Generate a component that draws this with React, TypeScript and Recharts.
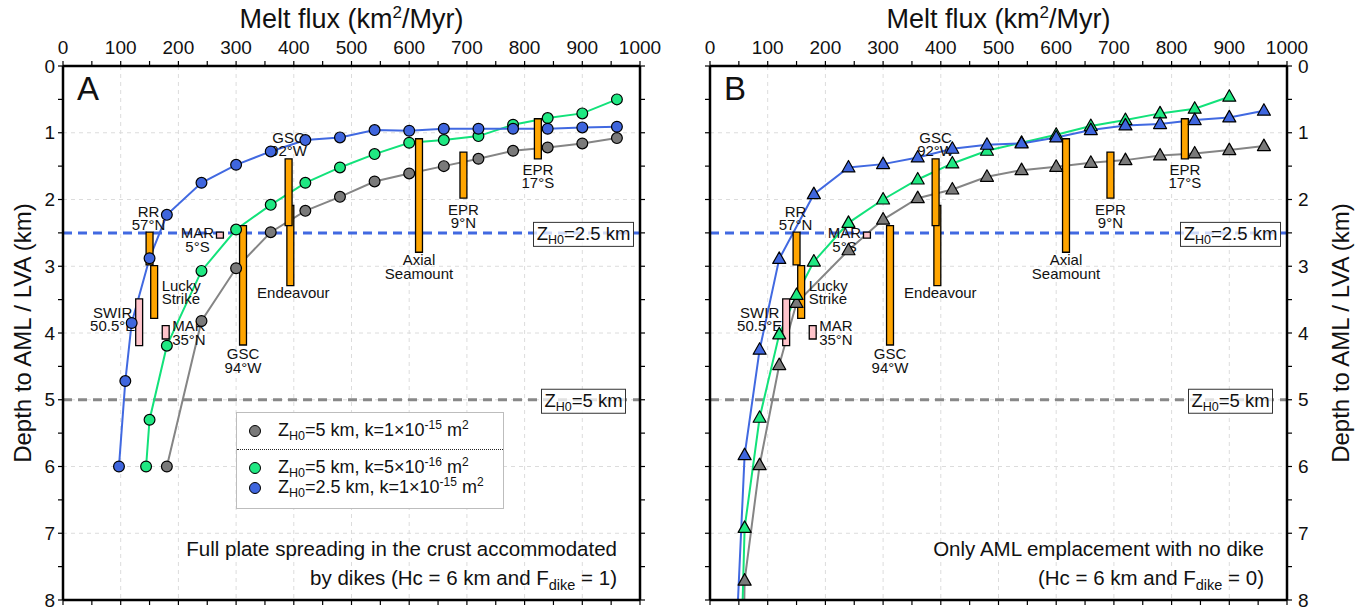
import React from 'react';
import { ComposedChart, Line, XAxis, YAxis, CartesianGrid, ReferenceLine, ReferenceArea, Legend } from 'recharts';

const FONT = '"Liberation Sans", Arial, Helvetica, sans-serif';

// axis ticks
const xTicks = [0, 50, 100, 150, 200, 250, 300, 350, 400, 450, 500, 550, 600, 650, 700, 750, 800, 850, 900, 950, 1000];
const yTicks = [0, 0.5, 1, 1.5, 2, 2.5, 3, 3.5, 4, 4.5, 5, 5.5, 6, 6.5, 7, 7.5, 8];
const gridX = [100, 200, 300, 400, 500, 600, 700, 800, 900];
const gridY = [1, 2, 3, 4, 5, 6, 7];

// panel A: full spreading accommodated by dikes (F_dike = 1)
const grayAx = [180, 240, 300, 360, 420, 480, 540, 600, 660, 720, 780, 840, 900, 960];
const grayAy = [6.0, 3.82, 3.03, 2.49, 2.17, 1.96, 1.73, 1.61, 1.5, 1.39, 1.27, 1.22, 1.16, 1.08];
const greenAx = [144, 150, 180, 240, 300, 360, 420, 480, 540, 600, 660, 720, 780, 840, 900, 960];
const greenAy = [6.0, 5.3, 4.19, 3.07, 2.45, 2.08, 1.75, 1.52, 1.32, 1.15, 1.11, 1.05, 0.88, 0.78, 0.71, 0.5];
const blueAx = [97, 108, 119, 150, 180, 240, 300, 360, 420, 480, 540, 600, 660, 720, 780, 840, 900, 960];
const blueAy = [6.0, 4.72, 3.85, 2.88, 2.23, 1.75, 1.48, 1.28, 1.11, 1.07, 0.96, 0.97, 0.94, 0.94, 0.94, 0.94, 0.92, 0.91];

// panel B: AML emplacement only (F_dike = 0)
const grayBx = [50, 60, 86, 120, 150, 240, 300, 360, 420, 480, 540, 600, 660, 720, 780, 840, 900, 960];
const grayBy = [13.5, 7.71, 5.98, 4.48, 3.55, 2.76, 2.3, 1.98, 1.85, 1.66, 1.56, 1.51, 1.45, 1.41, 1.34, 1.31, 1.26, 1.2];
const greenBx = [50, 60, 86, 120, 150, 180, 240, 300, 360, 420, 480, 540, 600, 660, 720, 780, 840, 900];
const greenBy = [10.1, 6.92, 5.27, 4.02, 3.43, 2.93, 2.35, 2.0, 1.7, 1.46, 1.27, 1.15, 1.03, 0.9, 0.81, 0.71, 0.64, 0.46];
const blueBx = [45, 60, 86, 120, 180, 240, 300, 360, 420, 480, 540, 600, 660, 720, 780, 840, 900, 960];
const blueBy = [8.66, 5.83, 4.25, 2.89, 1.92, 1.52, 1.47, 1.37, 1.24, 1.18, 1.16, 1.07, 0.96, 0.89, 0.87, 0.81, 0.77, 0.67];

// observed melt lens / LVA depth ranges
const siteNames = [['RR', '57°N'], ['Lucky', 'Strike'], ['MAR', '5°S'], ['SWIR', '50.5°E'], ['MAR', '35°N'], ['GSC', '94°W'], ['Endeavour'], ['GSC', '92°W'], ['Axial', 'Seamount'], ['EPR', '9°N'], ['EPR', '17°S']];
const siteFlux = [150, 158, 272, 132, 178, 312, 394, 391, 617, 694, 823];
const siteTop = [2.49, 2.99, 2.49, 3.49, 3.89, 2.39, 2.09, 1.39, 1.09, 1.29, 0.79];
const siteBottom = [2.98, 3.78, 2.58, 4.19, 4.09, 4.18, 3.29, 2.39, 2.79, 1.98, 1.39];
const siteKind = ['AML', 'AML', 'LVA', 'LVA', 'LVA', 'AML', 'AML', 'AML', 'AML', 'AML', 'AML'];

// legend text pieces, in series order
const seriesOrder = ['gray', 'green', 'blue'];
const legendZ = ['5', '5', '2.5'];
const legendK = ['1', '5', '1'];
const legendExp = ['-15', '-16', '-15'];

const COLORS = {
  gray: { line: '#858585', fill: '#7a7a7a' },
  green: { line: '#12E27A', fill: '#1FE882' },
  blue: { line: '#4169E1', fill: '#3F66DE' },
};
const KIND_FILL: Record<string, string> = { AML: '#FFA500', LVA: '#FFC4CB' };

const LABEL_LAYOUT = [
  { anchor: 'middle', ref: 'center', dx: -1, from: 'top', dy: -15.5 },
  { anchor: 'start', ref: 'right', dx: 4, from: 'top', dy: 25 },
  { anchor: 'middle', ref: 'left', dx: -19, from: 'top', dy: 6 },
  { anchor: 'middle', ref: 'left', dx: -23, from: 'top', dy: 19 },
  { anchor: 'start', ref: 'right', dx: 3, from: 'top', dy: 5.5 },
  { anchor: 'middle', ref: 'center', dx: 0, from: 'bottom', dy: 14 },
  { anchor: 'middle', ref: 'center', dx: 3, from: 'bottom', dy: 12.5 },
  { anchor: 'middle', ref: 'center', dx: 0, from: 'top', dy: -16 },
  { anchor: 'middle', ref: 'center', dx: 0, from: 'bottom', dy: 13 },
  { anchor: 'middle', ref: 'center', dx: 0, from: 'bottom', dy: 16.5 },
  { anchor: 'middle', ref: 'center', dx: 0, from: 'bottom', dy: 16 },
];

const toPoints = (xs: number[], ys: number[]) => xs.map((x, i) => ({ x, y: ys[i] }));

const makeDot = (marker: string, fill: string) => (props: any) => {
  const { cx, cy, index } = props;
  if (cx == null || cy == null) return <g key={index} />;
  if (marker === 'circle') {
    return <circle key={index} cx={cx} cy={cy} r={5.4} fill={fill} stroke="#000" strokeWidth={1.2} />;
  }
  return (
    <polygon
      key={index}
      points={`${cx},${cy - 7} ${cx - 6.5},${cy + 4.5} ${cx + 6.5},${cy + 4.5}`}
      fill={fill}
      stroke="#000"
      strokeWidth={1.2}
      strokeLinejoin="round"
    />
  );
};

const SiteLabel = ({ viewBox, lines, layout }: any) => {
  if (!viewBox) return null;
  const { x, y, width, height } = viewBox;
  const ax = (layout.ref === 'left' ? x : layout.ref === 'right' ? x + width : x + width / 2) + layout.dx;
  const by = (layout.from === 'top' ? y : y + height) + layout.dy;
  return (
    <text x={ax} y={by} textAnchor={layout.anchor} fontSize={15} fill="#111" fontFamily={FONT}>
      {lines.map((l: string, i: number) => (
        <tspan key={i} x={ax} dy={i === 0 ? 0 : 13.5}>{l}</tspan>
      ))}
    </text>
  );
};

const ZLabel = ({ viewBox, value }: any) => {
  if (!viewBox) return null;
  const { x, y, width } = viewBox;
  const cx = x + width - 56.5;
  const w = 76 + 8 * value.length;
  return (
    <g>
      <rect x={cx - w / 2} y={y - 10.5} width={w} height={24} fill="#fff" fillOpacity={0.75} stroke="#333" strokeWidth={1} />
      <text x={cx} y={y + 7} textAnchor="middle" fontSize={18.5} fill="#111" fontFamily={FONT}>
        Z<tspan fontSize={12.5} dy={4}>H0</tspan>
        <tspan dy={-4}>={value} km</tspan>
      </text>
    </g>
  );
};

const LegendBox = ({ payload }: any) => {
  const items = [...(payload || [])].sort(
    (a: any, b: any) => seriesOrder.indexOf(a.value) - seriesOrder.indexOf(b.value)
  );
  return (
    <div
      style={{
        width: 268,
        height: 97,
        boxSizing: 'border-box',
        border: '1px solid #bdbdbd',
        background: '#fff',
        position: 'relative',
        fontFamily: FONT,
        fontSize: 18,
        color: '#111',
      }}
    >
      {items.map((p: any) => {
        const i = seriesOrder.indexOf(p.value);
        const top = [18, 55, 75][i];
        const c = (COLORS as any)[p.value];
        return (
          <div key={p.value} style={{ position: 'absolute', left: 0, top: top - 11, height: 22, width: '100%', whiteSpace: 'nowrap' }}>
            <div
              style={{
                position: 'absolute',
                left: 12,
                top: 5,
                width: 10,
                height: 10,
                borderRadius: 6,
                background: c ? c.fill : p.color,
                border: '1.2px solid #000',
              }}
            />
            <div style={{ position: 'absolute', left: 41, top: 0, lineHeight: '20px' }}>
              Z<span style={{ fontSize: 12.5, position: 'relative', top: 4 }}>H0</span>={legendZ[i]} km, k={legendK[i]}×10
              <span style={{ fontSize: 12, position: 'relative', top: -7 }}>{legendExp[i]}</span> m
              <span style={{ fontSize: 12, position: 'relative', top: -7 }}>2</span>
            </div>
          </div>
        );
      })}
      <div style={{ position: 'absolute', left: 0, right: 0, top: 36, borderTop: '1.5px dotted #222' }} />
    </div>
  );
};

interface PanelProps {
  letter: string;
  marker: string;
  gray: { x: number; y: number }[];
  green: { x: number; y: number }[];
  blue: { x: number; y: number }[];
  width: number;
  margin: { top: number; right: number; bottom: number; left: number };
  leftW: number;
  rightW: number;
  labelsLeft: boolean;
  caption: string;
  fdike: string;
  showLegend: boolean;
}

function Panel(p: PanelProps) {
  const plotL = p.margin.left + p.leftW;
  const plotR = p.width - p.margin.right - p.rightW;
  const midX = (plotL + plotR) / 2;
  const yLabelX = p.labelsLeft ? 22 : p.width - 21;
  const tickStyle = { fontSize: 19, fill: '#111', fontFamily: FONT };
  const axisLine = { stroke: '#000', strokeWidth: 2.5 };
  const tickLine = { stroke: '#000', strokeWidth: 1.2 };
  return (
    <ComposedChart width={p.width} height={610} margin={p.margin}>
      <CartesianGrid verticalValues={gridX} horizontalValues={gridY} stroke="#dcdcdc" strokeDasharray="4 4" />
      <XAxis
        type="number"
        dataKey="x"
        orientation="top"
        domain={[0, 1000]}
        ticks={xTicks}
        interval={0}
        allowDataOverflow
        height={30}
        tickSize={5}
        tickMargin={7}
        tickFormatter={(v: number) => (v % 100 === 0 ? String(v) : '')}
        tick={{ ...tickStyle, fontSize: 19 }}
        axisLine={axisLine}
        tickLine={tickLine}
      />
      <XAxis
        xAxisId="b"
        type="number"
        dataKey="x"
        orientation="bottom"
        domain={[0, 1000]}
        ticks={xTicks}
        interval={0}
        allowDataOverflow
        height={8}
        tickSize={5}
        tickFormatter={() => ''}
        axisLine={axisLine}
        tickLine={tickLine}
      />
      <YAxis
        type="number"
        orientation="left"
        reversed
        domain={[0, 8]}
        ticks={yTicks}
        interval={0}
        allowDataOverflow
        width={p.leftW}
        tickSize={5}
        tickMargin={3}
        tickFormatter={(v: number) => (p.labelsLeft && Number.isInteger(v) ? String(v) : '')}
        tick={tickStyle}
        axisLine={axisLine}
        tickLine={tickLine}
      />
      <YAxis
        yAxisId="r"
        type="number"
        orientation="right"
        reversed
        domain={[0, 8]}
        ticks={yTicks}
        interval={0}
        allowDataOverflow
        width={p.rightW}
        tickSize={5}
        tickMargin={6}
        tickFormatter={(v: number) => (!p.labelsLeft && Number.isInteger(v) ? String(v) : '')}
        tick={tickStyle}
        axisLine={axisLine}
        tickLine={tickLine}
      />

      <ReferenceLine y={2.5} zIndex={350} stroke={COLORS.blue.line} strokeWidth={3} strokeDasharray="9 6" label={(lp: any) => <ZLabel {...lp} value="2.5" />} />
      <ReferenceLine y={5} zIndex={350} stroke="#888" strokeWidth={3} strokeDasharray="9 6" label={(lp: any) => <ZLabel {...lp} value="5" />} />

      <Line name="gray" data={p.gray} dataKey="y" stroke={COLORS.gray.line} fill={COLORS.gray.fill} strokeWidth={2} dot={makeDot(p.marker, COLORS.gray.fill)} activeDot={false} isAnimationActive={false} />
      <Line name="green" data={p.green} dataKey="y" stroke={COLORS.green.line} fill={COLORS.green.fill} strokeWidth={2} dot={makeDot(p.marker, COLORS.green.fill)} activeDot={false} isAnimationActive={false} />
      <Line name="blue" data={p.blue} dataKey="y" stroke={COLORS.blue.line} fill={COLORS.blue.fill} strokeWidth={2} dot={makeDot(p.marker, COLORS.blue.fill)} activeDot={false} isAnimationActive={false} />

      {siteFlux.map((f, i) => (
        <ReferenceArea
          key={i}
          zIndex={450}
          x1={f - 6}
          x2={f + 6}
          y1={siteTop[i]}
          y2={siteBottom[i]}
          fill={KIND_FILL[siteKind[i]]}
          fillOpacity={1}
          stroke="#000"
          strokeWidth={1.3}
          label={(lp: any) => <SiteLabel {...lp} lines={siteNames[i]} layout={LABEL_LAYOUT[i]} />}
        />
      ))}

      {p.showLegend && (
        <Legend
          layout="vertical"
          align="center"
          verticalAlign="middle"
          content={(lp: any) => <LegendBox {...lp} />}
          wrapperStyle={{ left: 236, top: 412, width: 268, height: 97 }}
        />
      )}

      <text x={midX} y={28} textAnchor="middle" fontSize={27} fill="#111" fontFamily={FONT}>
        Melt flux (km<tspan fontSize={17} dy={-10}>2</tspan>
        <tspan dy={10}>/Myr)</tspan>
      </text>
      <text
        x={yLabelX}
        y={333}
        textAnchor="middle"
        fontSize={24}
        fill="#111"
        fontFamily={FONT}
        transform={`rotate(-90, ${yLabelX}, 333)`}
        dominantBaseline="central"
      >
        Depth to AML / LVA (km)
      </text>
      <text x={plotL + 14} y={100} fontSize={33} fill="#111" fontFamily={FONT}>{p.letter}</text>
      <text x={plotR - 23} y={556} textAnchor="end" fontSize={20.5} fill="#111" fontFamily={FONT}>{p.caption}</text>
      <text x={plotR - 23} y={585} textAnchor="end" fontSize={20.5} fill="#111" fontFamily={FONT}>
        {p.labelsLeft ? 'by dikes (Hc = 6 km and F' : '(Hc = 6 km and F'}
        <tspan fontSize={14.5} dy={5}>dike</tspan>
        <tspan dy={-5}> = {p.fdike})</tspan>
      </text>
    </ComposedChart>
  );
}

export default function App() {
  return (
    <div style={{ position: 'absolute', left: 0, top: 0, width: 1361, height: 610, background: '#fff', fontFamily: FONT }}>
      <div style={{ position: 'absolute', left: 0, top: 0 }}>
        <Panel
          letter="A"
          marker="circle"
          gray={toPoints(grayAx, grayAy)}
          green={toPoints(greenAx, greenAy)}
          blue={toPoints(blueAx, blueAy)}
          width={680}
          margin={{ top: 36, right: 30, bottom: 2, left: 23 }}
          leftW={40}
          rightW={10}
          labelsLeft
          caption="Full plate spreading in the crust accommodated"
          fdike="1"
          showLegend
        />
      </div>
      <div style={{ position: 'absolute', left: 680, top: 0 }}>
        <Panel
          letter="B"
          marker="triangle"
          gray={toPoints(grayBx, grayBy)}
          green={toPoints(greenBx, greenBy)}
          blue={toPoints(blueBx, blueBy)}
          width={681}
          margin={{ top: 36, right: 34, bottom: 2, left: 20 }}
          leftW={10}
          rightW={40}
          labelsLeft={false}
          caption="Only AML emplacement with no dike"
          fdike="0"
          showLegend={false}
        />
      </div>
    </div>
  );
}
